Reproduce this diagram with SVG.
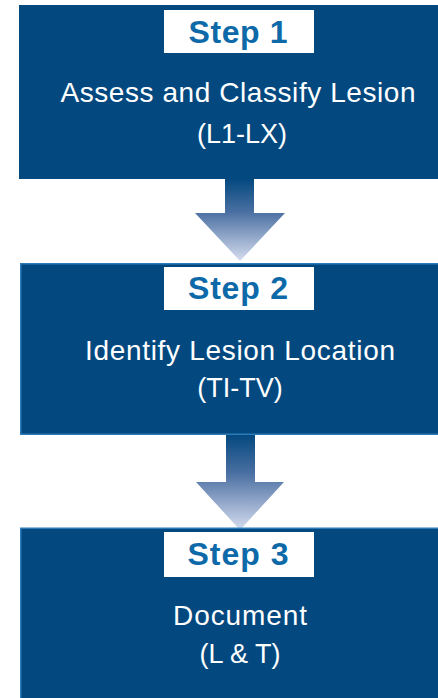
<svg xmlns="http://www.w3.org/2000/svg" width="438" height="698" viewBox="0 0 438 698">
<style>
.box{fill:#03497f}
.boxb{fill:#03497f;stroke:#2a7bb8;stroke-width:1.5}
.lbl{fill:#ffffff}
.step{font-family:"Liberation Sans",Arial,sans-serif;font-weight:bold;font-size:32px;fill:#0d69a8;text-anchor:middle}
.txt{font-family:"Liberation Sans",Arial,sans-serif;font-size:27px;fill:#ffffff;text-anchor:middle}
.big{font-size:28px}
</style>
<defs>
<linearGradient id="ag" x1="0" y1="0" x2="0" y2="1">
<stop offset="0" stop-color="#03497f"/>
<stop offset="0.4" stop-color="#4a6fa2"/>
<stop offset="1" stop-color="#d6ddef"/>
</linearGradient>
</defs>
<rect width="438" height="698" fill="#ffffff"/>
<g id="connectors">
<path d="M225,179 H254 V213 H285 L240,261 L195,213 H225 Z" fill="url(#ag)"/>
<path d="M226,435 H255 V482 H284 L240,530 L196,482 H226 Z" fill="url(#ag)"/>
</g>
<g id="step1">
<rect class="box" x="19" y="5" width="419" height="174"/>
<rect class="lbl" x="164" y="10" width="150" height="43"/>
<text class="step" x="238" y="43" textLength="99" lengthAdjust="spacing">Step 1</text>
<text class="txt big" x="238" y="102" textLength="355" lengthAdjust="spacing">Assess and Classify Lesion</text>
<text class="txt" x="242" y="143">(L1-LX)</text>
</g>
<g id="step2">
<rect class="boxb" x="20.75" y="263.75" width="418" height="170.5"/>
<rect class="lbl" x="164" y="267" width="150" height="43"/>
<text class="step" x="238" y="299" textLength="100" lengthAdjust="spacing">Step 2</text>
<text class="txt big" x="240" y="360" textLength="310" lengthAdjust="spacing">Identify Lesion Location</text>
<text class="txt" x="240" y="397">(TI-TV)</text>
</g>
<g id="step3">
<rect class="boxb" x="20.75" y="528.25" width="418" height="172"/>
<rect class="lbl" x="164" y="532" width="150" height="45"/>
<text class="step" x="238" y="565" textLength="101" lengthAdjust="spacing">Step 3</text>
<text class="txt big" x="240" y="625" textLength="134" lengthAdjust="spacing">Document</text>
<text class="txt" x="240" y="663">(L &amp; T)</text>
</g>
</svg>
